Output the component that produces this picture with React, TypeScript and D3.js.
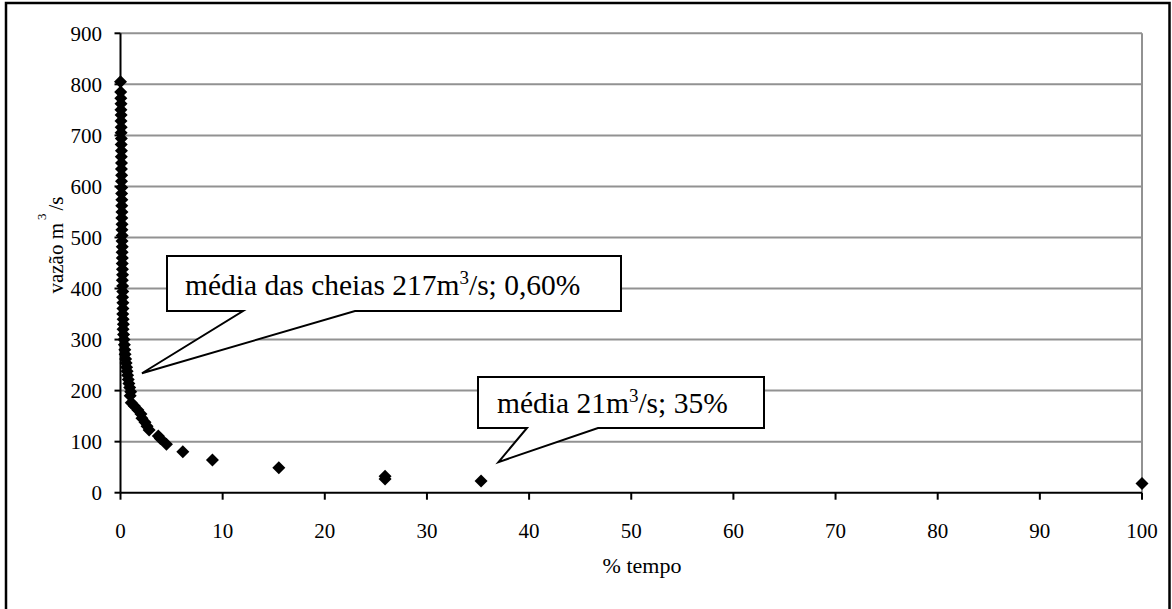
import React from "react";
import * as d3 from "d3";

// % of time (x) and discharge m³/s (y) — flow duration curve
const pctTime = [
  0.0, 0.02, 0.03, 0.05, 0.04, 0.06, 0.05, 0.07, 0.06, 0.08, 0.07, 0.09, 0.08, 0.1, 0.09, 0.11,
  0.1, 0.12, 0.11, 0.13, 0.12, 0.14, 0.13, 0.15, 0.14, 0.16, 0.15, 0.17, 0.16, 0.18, 0.17, 0.19,
  0.2, 0.18, 0.21, 0.22, 0.2, 0.23, 0.24, 0.22, 0.26, 0.28, 0.25, 0.3, 0.34, 0.38, 0.42, 0.45,
  0.5, 0.55, 0.6, 0.65, 0.7, 0.76, 0.82, 0.9, 1.0, 0.95, 1.05, 1.35, 1.7, 2.0, 2.1, 2.4, 2.6,
  2.8, 3.7, 3.9, 4.5, 6.1, 9.0, 15.5, 25.9, 25.9, 35.3, 100,
];
const flow = [
  805, 785, 773, 762, 750, 740, 728, 716, 705, 694, 682, 670, 658, 646, 634, 622,
  610, 598, 586, 574, 562, 550, 538, 526, 515, 504, 493, 482, 471, 460, 449, 438,
  427, 416, 405, 394, 383, 372, 361, 350, 340, 330, 320, 310, 300, 290, 280, 271,
  262, 254, 246, 238, 230, 222, 214, 206, 198, 190, 176, 170, 162, 154, 146, 138, 130,
  123, 111, 106, 95, 80, 64, 49, 32, 27, 23, 18,
];
const xTicks = [0, 10, 20, 30, 40, 50, 60, 70, 80, 90, 100];
const yTicks = [0, 100, 200, 300, 400, 500, 600, 700, 800, 900];

// callouts: tip anchored at data coordinates
const calloutTexts = [
  { pre: "média das cheias 217m", sup: "3", post: "/s; 0,60%" },
  { pre: "média 21m", sup: "3", post: "/s; 35%" },
];
const calloutTipX = [2.1, 37.0];
const calloutTipY = [234, 60];

const FONT = '"Liberation Serif", "DejaVu Serif", serif';

export default function App() {
  const W = 1172;
  const H = 609;
  const x = d3.scaleLinear().domain([0, 100]).range([120.5, 1142]);
  const y = d3.scaleLinear().domain([0, 900]).range([492.7, 33.3]);
  const r = 6.5;
  const diamond = (cx: number, cy: number) =>
    `M${cx},${cy - r}L${cx + r},${cy}L${cx},${cy + r}L${cx - r},${cy}Z`;

  const x0 = x(0);
  const y0 = y(0);
  const xEnd = x(100);
  const yTop = y(900);

  // callout box layout (pixels)
  const boxes = [
    { x0: 167, y0: 256, x1: 621, y1: 311, b1: 243, b2: 355, tx: 185, ty: 295 },
    { x0: 478, y0: 377, x1: 764, y1: 428, b1: 527, b2: 598, tx: 497, ty: 413 },
  ];
  const calloutPath = (i: number) => {
    const b = boxes[i];
    const px = x(calloutTipX[i]);
    const py = y(calloutTipY[i]);
    return `M${b.x0},${b.y0}H${b.x1}V${b.y1}H${b.b2}L${px},${py}L${b.b1},${b.y1}H${b.x0}Z`;
  };
  const ts = { fontFamily: FONT };

  return (
    <svg
      width={W}
      height={H}
      style={{ position: "absolute", left: 0, top: 0, display: "block", background: "#fff", fontFamily: FONT }}
    >
      <rect x={0} y={0} width={W} height={H} fill="#fff" />
      {/* outer frame */}
      <rect x={6} y={3} width={1163.5} height={620} fill="none" stroke="#000" strokeWidth={2.5} />

      {/* gridlines */}
      {yTicks.filter((v) => v > 0).map((v) => (
        <line key={"g" + v} x1={x0} x2={xEnd} y1={y(v)} y2={y(v)} stroke="#929292" strokeWidth={2} />
      ))}
      <line x1={xEnd} x2={xEnd} y1={yTop} y2={y0} stroke="#929292" strokeWidth={2} />

      {/* axes */}
      <line x1={x0} x2={x0} y1={yTop} y2={y0} stroke="#000" strokeWidth={2} />
      <line x1={x0} x2={xEnd} y1={y0} y2={y0} stroke="#000" strokeWidth={2} />
      {yTicks.map((v) => (
        <g key={"yt" + v}>
          <line x1={x0 - 6} x2={x0} y1={y(v)} y2={y(v)} stroke="#000" strokeWidth={2} />
          <text x={102} y={y(v)} dy="0.35em" textAnchor="end" fontSize={21} style={ts}>
            {v}
          </text>
        </g>
      ))}
      {xTicks.map((v) => (
        <g key={"xt" + v}>
          <line x1={x(v)} x2={x(v)} y1={y0} y2={y0 + 7} stroke="#000" strokeWidth={2} />
          <text x={x(v)} y={538} textAnchor="middle" fontSize={21} style={ts}>
            {v}
          </text>
        </g>
      ))}

      {/* axis titles */}
      <text x={642} y={572.5} textAnchor="middle" fontSize={22} style={ts}>
        % tempo
      </text>
      <text transform="translate(63,245) rotate(-90)" textAnchor="middle" fontSize={21} style={ts}>
        vazão m
        <tspan dx={3} dy={-17} fontSize={13}>
          3
        </tspan>
        <tspan dx={3} dy={17}>
          /s
        </tspan>
      </text>

      {/* points */}
      {pctTime.map((p, i) => (
        <path key={"p" + i} d={diamond(x(p), y(flow[i]))} fill="#000" />
      ))}

      {/* callouts */}
      {calloutTexts.map((c, i) => (
        <g key={"c" + i}>
          <path d={calloutPath(i)} fill="#fff" stroke="#000" strokeWidth={2} strokeLinejoin="miter" />
          <text x={boxes[i].tx} y={boxes[i].ty} fontSize={29.5} style={ts}>
            {c.pre}
            <tspan dy={-11} fontSize={19}>
              {c.sup}
            </tspan>
            <tspan dy={11}>{c.post}</tspan>
          </text>
        </g>
      ))}
    </svg>
  );
}
